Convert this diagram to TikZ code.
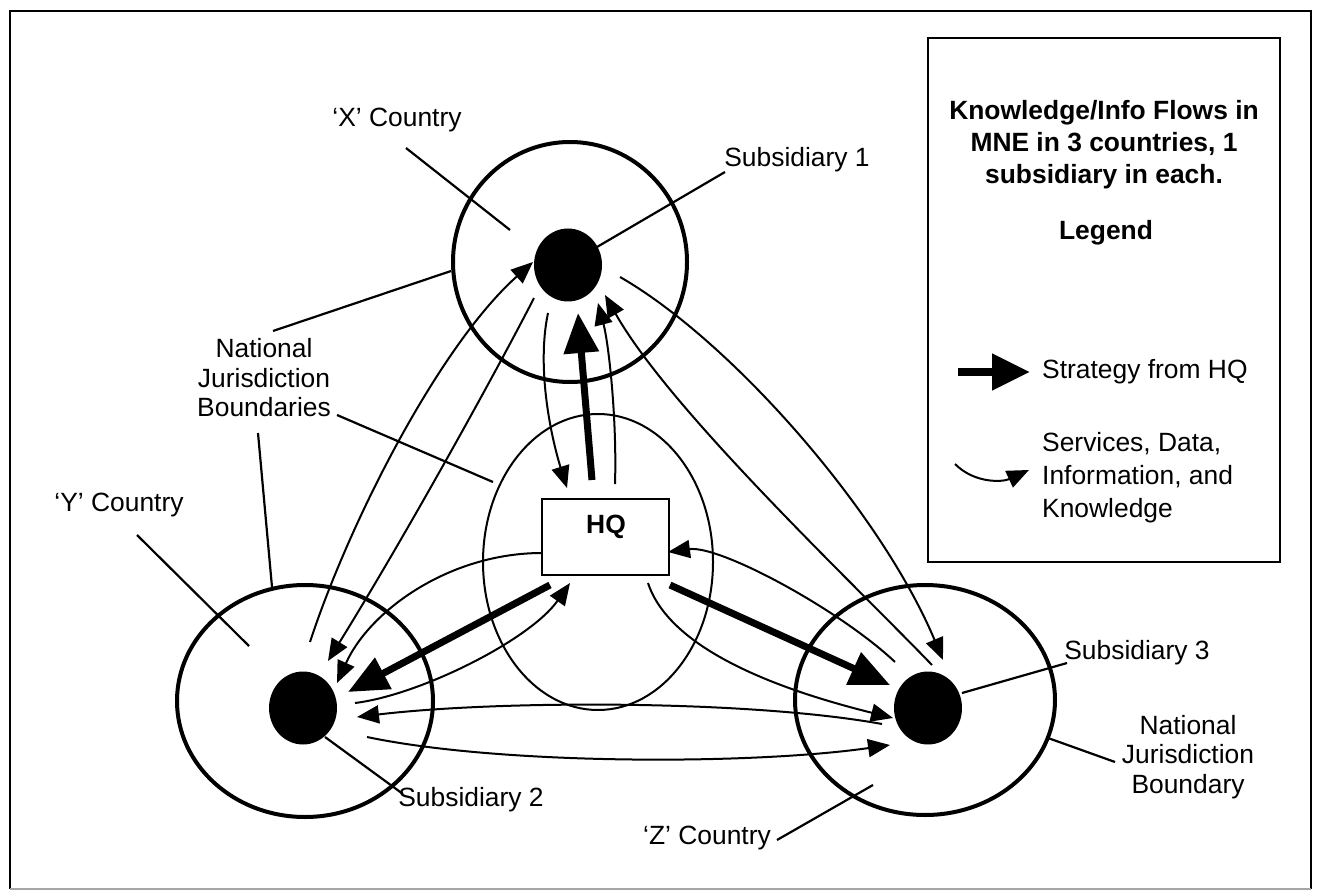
\documentclass[tikz,border=0pt]{standalone}
\usepackage{fontspec}
\setmainfont{Liberation Sans}
\usetikzlibrary{arrows.meta,shapes.geometric}
\begin{document}
\begin{tikzpicture}[x=1pt,y=-1pt,
  country/.style={draw, ellipse, line width=4pt, inner sep=0pt},
  hqring/.style={draw, ellipse, line width=2pt, inner sep=0pt},
  dot/.style={ellipse, fill=black, inner sep=0pt, minimum width=68pt, minimum height=73pt},
  hqbox/.style={draw, line width=2pt, minimum width=127pt, minimum height=76pt, inner sep=0pt, fill=white},
  lbl/.style={font=\fontsize{26.4}{29.5}\selectfont, inner sep=0pt, align=center},
  ttl/.style={font=\fontsize{26.4}{32}\selectfont\bfseries, inner sep=0pt, align=center},
  flow/.style={line width=2pt, -{Triangle[length=22pt,width=18pt]}},
  strat/.style={line width=7pt, -{Triangle[length=40pt,width=34pt]}},
  pointer/.style={line width=2.2pt},
]
\useasboundingbox (0,0) rectangle (1320,893);

% outer frame
\draw[line width=2pt] (10,889) -- (10,11) -- (1311,11) -- (1311,889);
\draw[line width=1.5pt, gray!70] (10,889) -- (1311,889);

% countries, HQ ring and subsidiaries
\node[country, minimum width=234pt, minimum height=240pt] (xc) at (570,262) {};
\node[country, minimum width=256pt, minimum height=232pt] (yc) at (305,701) {};
\node[country, minimum width=260pt, minimum height=230pt] (zc) at (925,700) {};
\node[hqring, minimum width=230pt, minimum height=296pt] (hqc) at (598,562) {};
\node[dot] (s1) at (568,265) {};
\node[dot] (s2) at (303,708) {};
\node[dot] (s3) at (928,708) {};
\node[hqbox] (hq) at (605.5,537) {};
\node[ttl] (hqlbl) at (606,527) {HQ};

% legend box
\node[draw, line width=2pt, minimum width=352pt, minimum height=524pt, inner sep=0pt] (legend) at (1104,300) {};
\node[ttl] (title) at (1104,145) {Knowledge/Info Flows in\\MNE in 3 countries, 1\\subsidiary in each.};
\node[ttl] (legtitle) at (1106,233) {Legend};
\node[lbl, anchor=west] (stratlbl) at (1042,372) {Strategy from HQ};
\node[lbl, anchor=west, align=left, font=\fontsize{26.4}{33}\selectfont] (servlbl) at (1042,478) {Services, Data,\\Information, and\\Knowledge};
\coordinate (ls-a) at (958,372);
\coordinate (ls-b) at (1030,372);
\draw[line width=8pt, -{Triangle[length=38pt,width=35pt]}] (ls-a) -- (ls-b);
\coordinate (lf-a) at (955,464);
\coordinate (lf-b) at (1029,470);
\draw[flow] (lf-a) .. controls (975,484) and (1003,482) .. (lf-b);

% text labels
\node[lbl] (xlbl) at (397,120) {‘X’ Country};
\node[lbl] (s1lbl) at (797,160) {Subsidiary 1};
\node[lbl] (njb) at (264,378) {National\\Jurisdiction\\Boundaries};
\node[lbl] (ylbl) at (119,505) {‘Y’ Country};
\node[lbl] (s2lbl) at (471,800) {Subsidiary 2};
\node[lbl] (zlbl) at (707,838) {‘Z’ Country};
\node[lbl] (s3lbl) at (1137,653) {Subsidiary 3};
\node[lbl] (njb2) at (1188,757) {National\\Jurisdiction\\Boundary};

% label pointers
\coordinate (px-a) at (406,148);  \coordinate (px-b) at (510,230);
\coordinate (p1-a) at (725,172);  \coordinate (p1-b) at (597,247);
\coordinate (pn1-a) at (273,331); \coordinate (pn1-b) at (451,271);
\coordinate (pn2-a) at (337,415); \coordinate (pn2-b) at (493,482);
\coordinate (pn3-a) at (258,433); \coordinate (pn3-b) at (272,587);
\coordinate (py-a) at (137,535);  \coordinate (py-b) at (249,646);
\coordinate (p2-a) at (325,737);  \coordinate (p2-b) at (403,794);
\coordinate (pz-a) at (777,840);  \coordinate (pz-b) at (873,785);
\coordinate (p3-a) at (962,693);  \coordinate (p3-b) at (1067,663);
\coordinate (pb-a) at (1115,762); \coordinate (pb-b) at (1048,738);
\foreach \a in {px,p1,pn1,pn2,pn3,py,p2,pz,p3,pb}
  \draw[pointer] (\a-a) -- (\a-b);

% end points of the flows
\coordinate (yx-s) at (310,642);  \coordinate (yx-e) at (533,262);
\coordinate (xy-s) at (534,298);  \coordinate (xy-e) at (328,661);
\coordinate (xh-s) at (548,313);  \coordinate (xh-e) at (567,488);
\coordinate (hx-s) at (615,484);  \coordinate (hx-e) at (598,303);
\coordinate (xz-s) at (620,277);  \coordinate (xz-e) at (943,660);
\coordinate (zx-s) at (932,665);  \coordinate (zx-e) at (605,295);
\coordinate (zh-s) at (895,662);  \coordinate (zh-e) at (668,552);
\coordinate (hz-s) at (648,583);  \coordinate (hz-e) at (893,718);
\coordinate (zy-s) at (882,724);  \coordinate (zy-e) at (357,717);
\coordinate (yz-s) at (367,737);  \coordinate (yz-e) at (890,745);
\coordinate (hy-s) at (542,553);  \coordinate (hy-e) at (337,683);
\coordinate (yh-s) at (355,703);  \coordinate (yh-e) at (570,583);
\coordinate (sx-s) at (592,480);  \coordinate (sx-e) at (578,313);
\coordinate (sy-s) at (550,585);  \coordinate (sy-e) at (348,692);
\coordinate (sz-s) at (670,585);  \coordinate (sz-e) at (890,685);

% services, data, information and knowledge
\draw[flow] (yx-s) .. controls (350,520) and (440,345) .. (yx-e);
\draw[flow] (xy-s) .. controls (505,355) and (415,520) .. (xy-e);
\draw[flow] (xh-s) .. controls (536,370) and (552,440) .. (xh-e);
\draw[flow] (hx-s) .. controls (617,420) and (609,345) .. (hx-e);
\draw[flow] (xz-s) .. controls (730,340) and (880,510) .. (xz-e);
\draw[flow] (zx-s) .. controls (850,580) and (670,410) .. (zx-e);
\draw[flow] (zh-s) .. controls (840,610) and (720,545) .. (zh-e);
\draw[flow] (hz-s) .. controls (670,650) and (780,690) .. (hz-e);
\draw[flow] (zy-s) .. controls (750,700) and (500,700) .. (zy-e);
\draw[flow] (yz-s) .. controls (500,765) and (750,765) .. (yz-e);
\draw[flow] (hy-s) .. controls (450,553) and (370,610) .. (hy-e);
\draw[flow] (yh-s) .. controls (420,695) and (530,640) .. (yh-e);

% strategy from HQ
\draw[strat] (sx-s) -- (sx-e);
\draw[strat] (sy-s) -- (sy-e);
\draw[strat] (sz-s) -- (sz-e);
\end{tikzpicture}
\end{document}
